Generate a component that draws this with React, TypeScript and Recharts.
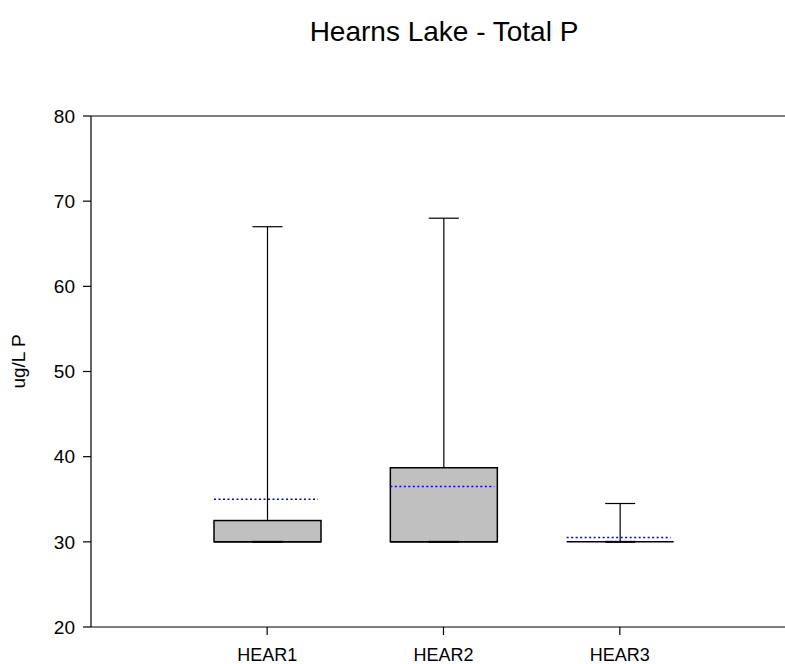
import React from 'react';
import { ComposedChart, Bar, XAxis, YAxis, ReferenceLine } from 'recharts';

const categories = ['HEAR1', 'HEAR2', 'HEAR3'];
const minValues = [30, 30, 30];
const q1Values = [30, 30, 30];
const medianValues = [30, 30, 30];
const q3Values = [32.5, 38.7, 30];
const maxValues = [67, 68, 34.5];
const meanValues = [35, 36.5, 30.5];
const yTicks = [20, 30, 40, 50, 60, 70, 80];

const data = categories.map((name, i) => ({
  name,
  min: minValues[i],
  q1: q1Values[i],
  median: medianValues[i],
  q3: q3Values[i],
  max: maxValues[i],
  mean: meanValues[i],
  range: [minValues[i], maxValues[i]],
}));

const FONT = '"Liberation Sans", Arial, sans-serif';

const BoxShape = (props: any) => {
  const { x, y, width, height, payload } = props;
  const lo = payload.min;
  const hi = payload.max;
  const py = (v: number) => (hi === lo ? y + height : y + (height * (hi - v)) / (hi - lo));
  const cx = x + width / 2;
  const cap = 15;
  const yq1 = py(payload.q1);
  const yq3 = py(payload.q3);
  const ymed = py(payload.median);
  const ymin = py(payload.min);
  const ymax = py(payload.max);
  const ymean = py(payload.mean);
  return (
    <g>
      <line x1={cx} x2={cx} y1={ymax} y2={yq3} stroke="#000" strokeWidth={1.2} />
      <line x1={cx - cap} x2={cx + cap} y1={ymax} y2={ymax} stroke="#000" strokeWidth={1.2} />
      <line x1={cx} x2={cx} y1={yq1} y2={ymin} stroke="#000" strokeWidth={1.2} />
      <rect x={x} y={yq3} width={width} height={Math.max(0, yq1 - yq3)} fill="#c0c0c0" stroke="#000" strokeWidth={1.5} />
      <line x1={x} x2={x + width} y1={ymed} y2={ymed} stroke="#000" strokeWidth={1.5} />
      <line x1={cx - cap} x2={cx + cap} y1={ymin} y2={ymin} stroke="#000" strokeWidth={2} />
      <line x1={x} x2={x + width - 3} y1={ymean} y2={ymean} stroke="#0000ff" strokeWidth={1.5} strokeDasharray="2 2.5" />
    </g>
  );
};

const YLabel = (props: any) => {
  const vb = props.viewBox || {};
  const lx = 25;
  const ly = vb.y + vb.height / 2 - 10;
  return (
    <text x={lx} y={ly} transform={`rotate(-90 ${lx} ${ly})`} textAnchor="middle" fontFamily={FONT} fontSize={19} fill="#000">
      ug/L P
    </text>
  );
};

export default function App() {
  return (
    <div style={{ position: 'absolute', left: 0, top: 0, width: 785, height: 664, overflow: 'hidden', background: '#fff' }}>
      <svg width={785} height={60} style={{ position: 'absolute', left: 0, top: 0 }}>
        <text x={444} y={41} textAnchor="middle" fontFamily={FONT} fontSize={28} fill="#000">
          Hearns Lake - Total P
        </text>
      </svg>
      <div style={{ position: 'absolute', left: 0, top: 0 }}>
        <ComposedChart width={800} height={664} data={data} margin={{ top: 116, right: 4, bottom: 0, left: 0 }}>
          <XAxis
            dataKey="name"
            type="category"
            padding={{ left: 88, right: 88 }}
            axisLine={{ stroke: '#000', strokeWidth: 1.2 }}
            tickLine={{ stroke: '#000', strokeWidth: 1.2 }}
            tickSize={8}
            tickMargin={13}
            height={37}
            tick={{ fill: '#000', fontFamily: FONT, fontSize: 18 }}
            interval={0}
          />
          <YAxis
            type="number"
            domain={[20, 80]}
            ticks={yTicks}
            width={91}
            axisLine={{ stroke: '#000', strokeWidth: 1.2 }}
            tickLine={{ stroke: '#000', strokeWidth: 1.2 }}
            tickSize={8}
            tickMargin={8}
            tick={{ fill: '#000', fontFamily: FONT, fontSize: 19 }}
            label={<YLabel />}
            allowDataOverflow
          />
          <ReferenceLine y={80} stroke="#000" strokeWidth={1.2} />
          <Bar dataKey="range" barSize={107} shape={<BoxShape />} isAnimationActive={false} />
        </ComposedChart>
      </div>
    </div>
  );
}
